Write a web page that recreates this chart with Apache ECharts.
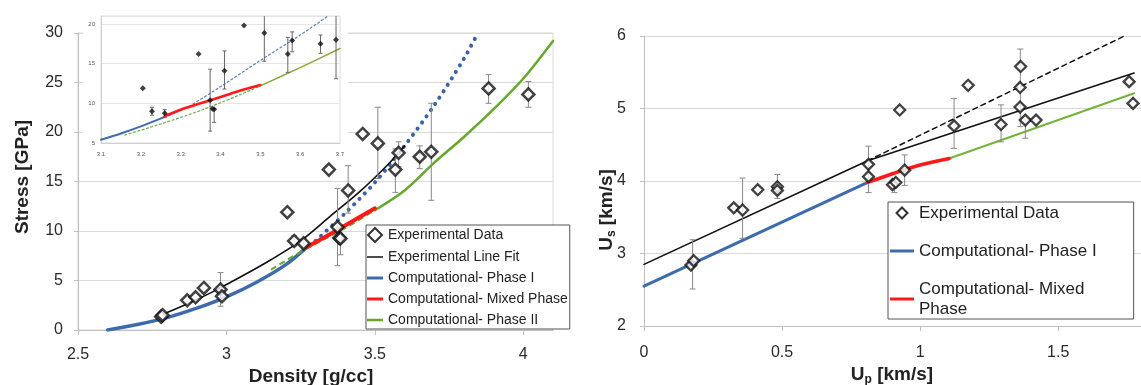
<!DOCTYPE html>
<html><head><meta charset="utf-8">
<script src="https://cdn.jsdelivr.net/npm/echarts@6/dist/echarts.min.js"></script>
<style>html,body{margin:0;padding:0;background:#fff}#c{width:1141px;height:385px}</style>
</head><body><div id="c"></div>
<script>
// ---------- Left chart: Stress vs Density ----------
const expDensity = [2.78, 2.785, 2.868, 2.896, 2.924, 2.98, 2.985, 3.205, 3.228, 3.26, 3.345, 3.374, 3.38, 3.384, 3.41, 3.459, 3.51, 3.569, 3.58, 3.651, 3.69, 3.883, 4.017];
const expStress  = [1.35, 1.5, 3.0, 3.3, 4.25, 4.1, 3.4, 11.9, 9.0, 8.75, 16.2, 10.4, 9.3, 9.25, 14.1, 19.8, 18.85, 16.2, 17.9, 17.5, 18.0, 24.4, 23.8];
const errDensity = [2.98, 3.228, 3.26, 3.374, 3.384, 3.41, 3.51, 3.569, 3.58, 3.651, 3.69, 3.883, 4.017];
const errLow     = [2.4, 8.5, 8.3, 6.5, 7.6, 11.8, 15.3, 13.9, 16.5, 16.3, 13.1, 22.9, 22.5];
const errHigh    = [5.8, 9.5, 9.2, 14.3, 9.3, 16.6, 22.5, 18.3, 19.0, 18.6, 22.9, 25.8, 25.1];

const fitDensity = [2.77, 2.85, 2.95, 3.05, 3.15, 3.25, 3.35, 3.45, 3.55, 3.6];
const fitStress  = [1.4, 2.4, 3.8, 5.4, 7.1, 9.0, 11.5, 14.0, 16.9, 18.6];
const ph1Density = [2.6, 2.7, 2.8, 2.9, 3.0, 3.1, 3.2, 3.27];
const ph1Stress  = [0, 0.55, 1.25, 2.2, 3.35, 4.8, 6.6, 8.35];
const mixDensity = [3.27, 3.35, 3.42, 3.5];
const mixStress  = [8.35, 9.7, 10.9, 12.3];
const ph1ExtDensity = [3.3, 3.4, 3.5, 3.6, 3.7, 3.8, 3.84];
const ph1ExtStress  = [9.0, 11.8, 14.9, 18.6, 22.7, 27.4, 29.6];
const ph2ExtDensity = [3.15, 3.2, 3.25, 3.3, 3.4, 3.5];
const ph2ExtStress  = [6.1, 7.0, 7.9, 8.7, 10.3, 12.1];
const ph2Density = [3.5, 3.6, 3.7, 3.8, 3.9, 4.0, 4.1];
const ph2Stress  = [12.1, 14.1, 16.9, 19.5, 22.3, 25.4, 29.2];

// inset curves
const inPh1Density = [3.1, 3.15, 3.2, 3.26];
const inPh1Stress  = [5.4, 6.2, 7.1, 8.3];
const inMixDensity = [3.26, 3.3, 3.35, 3.4, 3.45, 3.5];
const inMixStress  = [8.4, 9.2, 10.0, 10.8, 11.6, 12.3];
const inPh1ExtDensity = [3.26, 3.32, 3.4, 3.5, 3.6, 3.67];
const inPh1ExtStress  = [8.2, 9.6, 12.1, 15.4, 18.6, 21.0];
const inPh2ExtDensity = [3.16, 3.25, 3.35, 3.45, 3.5];
const inPh2ExtStress  = [6.0, 7.4, 9.1, 11.1, 12.2];
const inPh2Density = [3.5, 3.6, 3.7];
const inPh2Stress  = [12.2, 14.5, 16.9];

// ---------- Right chart: Us vs Up ----------
const upExp = [0.17, 0.18, 0.325, 0.357, 0.412, 0.483, 0.483, 0.813, 0.813, 0.9, 0.912, 0.926, 0.944, 1.123, 1.174, 1.293, 1.362, 1.362, 1.364, 1.381, 1.42, 1.757, 1.771];
const usExp = [2.84, 2.9, 3.63, 3.60, 3.88, 3.92, 3.87, 4.23, 4.06, 3.95, 3.98, 4.98, 4.15, 4.76, 5.32, 4.78, 5.29, 5.02, 5.58, 4.84, 4.84, 5.37, 5.07];
const upErr    = [0.176, 0.357, 0.483, 0.813, 0.907, 0.944, 1.123, 1.293, 1.363, 1.381];
const usErrLow = [2.51, 3.21, 3.76, 3.84, 3.84, 3.94, 4.45, 4.54, 4.75, 4.59];
const usErrHigh= [3.19, 4.04, 4.09, 4.48, 4.0, 4.36, 5.14, 5.05, 5.82, 4.84];
const upFit  = [0, 0.81, 1.775];
const usFit  = [2.85, 4.28, 5.49];
const upFitExt = [0.81, 1.74];
const usFitExt = [4.28, 6.0];
const upPh1 = [0, 0.81];
const usPh1 = [2.55, 3.98];
const upMix = [0.81, 0.9, 1.0, 1.105];
const usMix = [3.98, 4.1, 4.22, 4.31];
const upPh2 = [1.105, 1.775];
const usPh2 = [4.31, 5.21];

// ---------- helpers ----------
const F = "'Liberation Sans', Arial, sans-serif";
const zip = (xs, ys) => xs.map((x, i) => [x, ys[i]]);
const zip3 = (xs, a, b) => xs.map((x, i) => [x, a[i], b[i]]);
const BLUE = '#3d6bab', RED = '#ff1a1a', GREEN = '#67a82c', GRID = '#d9d9d9', AX = '#bfbfbf';

function errRender(capHalf, color, width) {
  return function (params, api) {
    const x = api.value(0), lo = api.value(1), hi = api.value(2);
    const p1 = api.coord([x, lo]), p2 = api.coord([x, hi]);
    const style = { stroke: color, lineWidth: width, fill: null };
    return { type: 'group', children: [
      { type: 'line', shape: { x1: p1[0], y1: p1[1], x2: p2[0], y2: p2[1] }, style },
      { type: 'line', shape: { x1: p1[0] - capHalf, y1: p1[1], x2: p1[0] + capHalf, y2: p1[1] }, style },
      { type: 'line', shape: { x1: p2[0] - capHalf, y1: p2[1], x2: p2[0] + capHalf, y2: p2[1] }, style }
    ]};
  };
}
function line(name, xi, yi, xs, ys, color, width, type, z, extra) {
  return Object.assign({
    name, type: 'line', xAxisIndex: xi, yAxisIndex: yi, data: zip(xs, ys),
    symbol: 'none', smooth: 0.3, z: z || 3, silent: true,
    itemStyle: { color },
    lineStyle: { color, width, type: type || 'solid', cap: 'round' }
  }, extra || {});
}
const tickLabel = { fontFamily: F, fontSize: 16, color: '#2a2a2a' };
const bar = (w, h) => 'path://M0,0H' + w + 'V' + h + 'H0Z';
const DIAMOND = 'path://M5,0L10,5L5,10L0,5Z';

const chart = echarts.init(document.getElementById('c'), null, { renderer: 'canvas' });
chart.setOption({
  animation: false,
  backgroundColor: '#fff',
  grid: [
    { left: 78, top: 33, width: 475, bottom: 55, show: true, borderColor: GRID, borderWidth: 1, backgroundColor: 'transparent', z: 0 },
    { left: 101, top: 16, width: 239, height: 127, show: true, borderColor: '#dcdcdc', borderWidth: 1, backgroundColor: 'transparent', z: 3 },
    { left: 644, top: 36, width: 504, bottom: 59, show: false }
  ],
  xAxis: [
    { type: 'value', gridIndex: 0, min: 2.5, max: 4.1, interval: 0.5, z: 0,
      axisLine: { show: true, lineStyle: { color: AX } }, axisTick: { show: true, length: 5, lineStyle: { color: AX } },
      axisLabel: Object.assign({ margin: 17, showMaxLabel: false }, tickLabel), splitLine: { show: false } },
    { type: 'value', gridIndex: 1, min: 3.1, max: 3.7, interval: 0.1, z: 3,
      axisLine: { show: true, lineStyle: { color: '#cfcfcf' } }, axisTick: { show: false },
      axisLabel: { fontFamily: F, fontSize: 6, color: '#555', margin: 8, formatter: v => v.toFixed(1) }, splitLine: { show: false } },
    { type: 'value', gridIndex: 2, min: 0, max: 1.8, interval: 0.5,
      axisLine: { show: true, lineStyle: { color: AX } }, axisTick: { show: true, length: 5, lineStyle: { color: AX } },
      axisLabel: Object.assign({ margin: 19, showMaxLabel: false }, tickLabel), splitLine: { show: false } }
  ],
  yAxis: [
    { type: 'value', gridIndex: 0, min: 0, max: 30, interval: 5, z: 0,
      axisLine: { show: true, lineStyle: { color: AX } }, axisTick: { show: true, length: 4, lineStyle: { color: AX } },
      axisLabel: Object.assign({ margin: 15 }, tickLabel), splitLine: { show: true, lineStyle: { color: GRID } } },
    { type: 'value', gridIndex: 1, min: 5, max: 21, interval: 5, z: 3,
      axisLine: { show: true, lineStyle: { color: '#cfcfcf' } }, axisTick: { show: false },
      axisLabel: { fontFamily: F, fontSize: 6, color: '#555', margin: 6, showMaxLabel: false }, splitLine: { show: true, lineStyle: { color: '#e6e6e6' } } },
    { type: 'value', gridIndex: 2, min: 2, max: 6, interval: 1,
      axisLine: { show: true, lineStyle: { color: AX } }, axisTick: { show: true, length: 4, lineStyle: { color: AX } },
      axisLabel: Object.assign({ margin: 18 }, tickLabel), splitLine: { show: true, lineStyle: { color: GRID } } }
  ],
  legend: [
    { left: 366, top: 225, orient: 'vertical', selectedMode: false, backgroundColor: '#fff', symbolKeepAspect: true,
      borderColor: '#555', borderWidth: 1, padding: [2, 2, 2, 1], itemGap: 7, itemWidth: 16, itemHeight: 14,
      textStyle: { fontFamily: F, fontSize: 14, lineHeight: 14, color: '#222' },
      data: [
        { name: 'Experimental Data', icon: DIAMOND, itemStyle: { color: '#fff', borderColor: '#000', borderWidth: 2 } },
        { name: 'Experimental Line Fit', icon: bar(16, 1.5), itemStyle: { color: '#111', borderWidth: 0 } },
        { name: 'Computational- Phase I', icon: bar(16, 3), itemStyle: { color: BLUE, borderWidth: 0 } },
        { name: 'Computational- Mixed Phase', icon: bar(16, 3), itemStyle: { color: RED, borderWidth: 0 } },
        { name: 'Computational- Phase II', icon: bar(16, 2.5), itemStyle: { color: GREEN, borderWidth: 0 } }
      ] },
    { left: 888, top: 202, orient: 'vertical', selectedMode: false, backgroundColor: '#fff', symbolKeepAspect: true,
      borderColor: '#555', borderWidth: 1, padding: [1, 37, 0, 2], itemGap: 18, itemWidth: 24, itemHeight: 11,
      textStyle: { fontFamily: F, fontSize: 17, lineHeight: 20, color: '#222' },
      formatter: n => n === 'Computational- Mixed Phase' ? 'Computational- Mixed\nPhase' : n,
      data: [
        { name: 'Experimental Data', icon: DIAMOND, itemStyle: { color: '#fff', borderColor: '#000', borderWidth: 2 } },
        { name: 'Computational- Phase I', icon: bar(24, 3), itemStyle: { color: BLUE, borderWidth: 0 } },
        { name: 'Computational- Mixed Phase', icon: bar(24, 3), itemStyle: { color: RED, borderWidth: 0 } }
      ] }
  ],
  graphic: [
    { type: 'rect', shape: { x: 83, y: 6, width: 265, height: 157 }, style: { fill: '#fff' }, z: 1, silent: true },
    { type: 'text', x: 23, y: 177, rotation: Math.PI / 2, z: 100,
      style: { text: 'Stress [GPa]', fontFamily: F, fontSize: 19, fontWeight: 'bold', fill: '#222', align: 'center', verticalAlign: 'middle' } },
    { type: 'text', x: 311, y: 377, z: 100,
      style: { text: 'Density [g/cc]', fontFamily: F, fontSize: 19, fontWeight: 'bold', fill: '#222', align: 'center', verticalAlign: 'middle' } },
    { type: 'text', x: 892, y: 375, z: 100,
      style: { text: '{a|U}{b|p}{a| [km/s]}', align: 'center', verticalAlign: 'middle',
        rich: { a: { fontFamily: F, fontSize: 19, fontWeight: 'bold', fill: '#222', lineHeight: 22 },
                b: { fontFamily: F, fontSize: 12, fontWeight: 'bold', fill: '#222', lineHeight: 12, verticalAlign: 'bottom' } } } },
    { type: 'text', x: 607, y: 210, rotation: Math.PI / 2, z: 100,
      style: { text: '{a|U}{b|s}{a| [km/s]}', align: 'center', verticalAlign: 'middle',
        rich: { a: { fontFamily: F, fontSize: 19, fontWeight: 'bold', fill: '#222', lineHeight: 22 },
                b: { fontFamily: F, fontSize: 12, fontWeight: 'bold', fill: '#222', lineHeight: 12, verticalAlign: 'bottom' } } } }
  ],
  series: [
    // ----- left main -----
    { name: 'Experimental Data', type: 'scatter', xAxisIndex: 0, yAxisIndex: 0, data: zip(expDensity, expStress),
      symbol: 'diamond', symbolSize: 12, z: 6, silent: true,
      itemStyle: { color: '#fff', borderColor: '#111', borderWidth: 2.5 } },
    line('Experimental Line Fit', 0, 0, fitDensity, fitStress, '#111', 1.6, 'solid', 4),
    line('Computational- Phase I', 0, 0, ph1Density, ph1Stress, BLUE, 3.5, 'solid', 3),
    line('Computational- Mixed Phase', 0, 0, mixDensity, mixStress, RED, 4, 'solid', 4),
    line('Computational- Phase II', 0, 0, ph2Density, ph2Stress, GREEN, 2.5, 'solid', 3),
    line('Computational- Phase I', 0, 0, ph1ExtDensity, ph1ExtStress, '#3a62a6', 4, [0.1, 7.5], 3),
    line('Computational- Phase II', 0, 0, ph2ExtDensity, ph2ExtStress, GREEN, 2, [6, 4], 3, { lineStyle: { color: GREEN, width: 2, type: [6, 4], cap: 'butt' } }),
    { name: 'err-main', type: 'custom', xAxisIndex: 0, yAxisIndex: 0, data: zip3(errDensity, errLow, errHigh),
      renderItem: errRender(3, '#888', 1), z: 5, silent: true },
    // ----- inset -----
    line('in-ph1', 1, 1, inPh1Density, inPh1Stress, BLUE, 2, 'solid', 6),
    line('in-mix', 1, 1, inMixDensity, inMixStress, RED, 2.6, 'solid', 6),
    line('in-ph1ext', 1, 1, inPh1ExtDensity, inPh1ExtStress, '#5a7fbf', 1.2, [2, 2.5], 5),
    line('in-ph2ext', 1, 1, inPh2ExtDensity, inPh2ExtStress, '#6aa84f', 1.2, [2, 2.5], 5),
    line('in-ph2', 1, 1, inPh2Density, inPh2Stress, '#8aa83a', 1.5, 'solid', 5),
    { name: 'err-inset', type: 'custom', xAxisIndex: 1, yAxisIndex: 1, data: zip3(errDensity, errLow, errHigh),
      renderItem: errRender(2, '#666', 1), clip: true, z: 6, silent: true },
    { name: 'inset-exp', type: 'scatter', xAxisIndex: 1, yAxisIndex: 1, data: zip(expDensity, expStress),
      symbol: 'diamond', symbolSize: 6, z: 7, silent: true, clip: true, itemStyle: { color: '#111' } },
    // ----- right chart -----
    { name: 'err-right', type: 'custom', xAxisIndex: 2, yAxisIndex: 2, data: zip3(upErr, usErrLow, usErrHigh),
      renderItem: errRender(3, '#888', 1), z: 5, silent: true },
    line('Experimental Line Fit', 2, 2, upFit, usFit, '#111', 1.6, 'solid', 4, { smooth: false }),
    line('fit-ext', 2, 2, upFitExt, usFitExt, '#111', 1.5, [5, 4], 4, { smooth: false }),
    line('Computational- Phase I', 2, 2, upPh1, usPh1, BLUE, 3, 'solid', 3, { smooth: false }),
    line('Computational- Mixed Phase', 2, 2, upMix, usMix, RED, 3.5, 'solid', 4),
    line('Computational- Phase II', 2, 2, upPh2, usPh2, '#72b43a', 2, 'solid', 3, { smooth: false }),
    { name: 'Experimental Data', type: 'scatter', xAxisIndex: 2, yAxisIndex: 2, data: zip(upExp, usExp),
      symbol: 'diamond', symbolSize: 11, z: 6, silent: true, clip: false,
      itemStyle: { color: '#fff', borderColor: '#111', borderWidth: 2.3 } }
  ]
});
</script></body></html>
